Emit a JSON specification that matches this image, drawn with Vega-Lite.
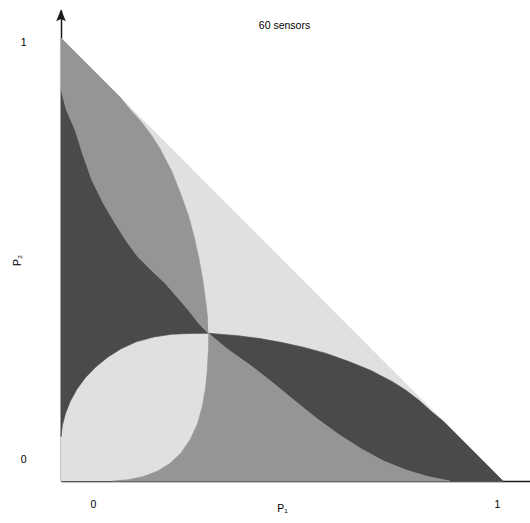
{
  "$schema": "https://vega.github.io/schema/vega-lite/v6.json",
  "width": 469,
  "height": 471,
  "autosize": {"type": "none"},
  "padding": {"left": 61, "top": 10, "right": 0, "bottom": 42},
  "background": "white",
  "config": {"view": {"stroke": null}, "font": "Liberation Sans"},
  "title": {"text": "60 sensors", "fontSize": 10.5, "fontWeight": "normal", "color": "black", "anchor": "middle", "dx": -11, "dy": 26},
  "datasets": {
    "arrow": [{"P1": 0, "P2": 1.051}],
    "regions": [
      {"region": "bg", "shade": "light", "i": 0, "P1": 0, "P2": 0},
      {"region": "bg", "shade": "light", "i": 1, "P1": 1, "P2": 0},
      {"region": "bg", "shade": "light", "i": 2, "P1": 0, "P2": 1},

      {"region": "d1", "shade": "dark", "i": 0, "P1": 0.3333, "P2": 0.3333},
      {"region": "d1", "shade": "dark", "i": 1, "P1": 0.40, "P2": 0.328},
      {"region": "d1", "shade": "dark", "i": 2, "P1": 0.45, "P2": 0.3215},
      {"region": "d1", "shade": "dark", "i": 3, "P1": 0.50, "P2": 0.3125},
      {"region": "d1", "shade": "dark", "i": 4, "P1": 0.55, "P2": 0.3015},
      {"region": "d1", "shade": "dark", "i": 5, "P1": 0.60, "P2": 0.288},
      {"region": "d1", "shade": "dark", "i": 6, "P1": 0.65, "P2": 0.270},
      {"region": "d1", "shade": "dark", "i": 7, "P1": 0.70, "P2": 0.250},
      {"region": "d1", "shade": "dark", "i": 8, "P1": 0.75, "P2": 0.224},
      {"region": "d1", "shade": "dark", "i": 9, "P1": 0.78, "P2": 0.205},
      {"region": "d1", "shade": "dark", "i": 10, "P1": 0.81, "P2": 0.182},
      {"region": "d1", "shade": "dark", "i": 11, "P1": 0.84, "P2": 0.155},
      {"region": "d1", "shade": "dark", "i": 12, "P1": 0.865, "P2": 0.135},
      {"region": "d1", "shade": "dark", "i": 13, "P1": 1, "P2": 0},
      {"region": "d1", "shade": "dark", "i": 14, "P1": 0.88, "P2": 0},
      {"region": "d1", "shade": "dark", "i": 15, "P1": 0.83, "P2": 0.010},
      {"region": "d1", "shade": "dark", "i": 16, "P1": 0.78, "P2": 0.025},
      {"region": "d1", "shade": "dark", "i": 17, "P1": 0.73, "P2": 0.045},
      {"region": "d1", "shade": "dark", "i": 18, "P1": 0.68, "P2": 0.072},
      {"region": "d1", "shade": "dark", "i": 19, "P1": 0.63, "P2": 0.104},
      {"region": "d1", "shade": "dark", "i": 20, "P1": 0.58, "P2": 0.140},
      {"region": "d1", "shade": "dark", "i": 21, "P1": 0.53, "P2": 0.180},
      {"region": "d1", "shade": "dark", "i": 22, "P1": 0.48, "P2": 0.221},
      {"region": "d1", "shade": "dark", "i": 23, "P1": 0.43, "P2": 0.260},
      {"region": "d1", "shade": "dark", "i": 24, "P1": 0.38, "P2": 0.295},
      {"region": "d1", "shade": "dark", "i": 25, "P1": 0.36, "P2": 0.311},

      {"region": "m1", "shade": "mid", "i": 0, "P1": 0.3333, "P2": 0.3333},
      {"region": "m1", "shade": "mid", "i": 1, "P1": 0.36, "P2": 0.311},
      {"region": "m1", "shade": "mid", "i": 2, "P1": 0.38, "P2": 0.295},
      {"region": "m1", "shade": "mid", "i": 3, "P1": 0.43, "P2": 0.260},
      {"region": "m1", "shade": "mid", "i": 4, "P1": 0.48, "P2": 0.221},
      {"region": "m1", "shade": "mid", "i": 5, "P1": 0.53, "P2": 0.180},
      {"region": "m1", "shade": "mid", "i": 6, "P1": 0.58, "P2": 0.140},
      {"region": "m1", "shade": "mid", "i": 7, "P1": 0.63, "P2": 0.104},
      {"region": "m1", "shade": "mid", "i": 8, "P1": 0.68, "P2": 0.072},
      {"region": "m1", "shade": "mid", "i": 9, "P1": 0.73, "P2": 0.045},
      {"region": "m1", "shade": "mid", "i": 10, "P1": 0.78, "P2": 0.025},
      {"region": "m1", "shade": "mid", "i": 11, "P1": 0.83, "P2": 0.010},
      {"region": "m1", "shade": "mid", "i": 12, "P1": 0.88, "P2": 0},
      {"region": "m1", "shade": "mid", "i": 13, "P1": 0.118, "P2": 0},
      {"region": "m1", "shade": "mid", "i": 14, "P1": 0.152, "P2": 0.003},
      {"region": "m1", "shade": "mid", "i": 15, "P1": 0.186, "P2": 0.010},
      {"region": "m1", "shade": "mid", "i": 16, "P1": 0.218, "P2": 0.022},
      {"region": "m1", "shade": "mid", "i": 17, "P1": 0.247, "P2": 0.040},
      {"region": "m1", "shade": "mid", "i": 18, "P1": 0.272, "P2": 0.064},
      {"region": "m1", "shade": "mid", "i": 19, "P1": 0.293, "P2": 0.095},
      {"region": "m1", "shade": "mid", "i": 20, "P1": 0.309, "P2": 0.130},
      {"region": "m1", "shade": "mid", "i": 21, "P1": 0.320, "P2": 0.170},
      {"region": "m1", "shade": "mid", "i": 22, "P1": 0.327, "P2": 0.210},
      {"region": "m1", "shade": "mid", "i": 23, "P1": 0.331, "P2": 0.250},
      {"region": "m1", "shade": "mid", "i": 24, "P1": 0.333, "P2": 0.290},

      {"region": "d2", "shade": "dark", "i": 0, "P1": 0.3333, "P2": 0.3333},
      {"region": "d2", "shade": "dark", "i": 1, "P1": 0.29, "P2": 0.333},
      {"region": "d2", "shade": "dark", "i": 2, "P1": 0.25, "P2": 0.331},
      {"region": "d2", "shade": "dark", "i": 3, "P1": 0.21, "P2": 0.325},
      {"region": "d2", "shade": "dark", "i": 4, "P1": 0.17, "P2": 0.314},
      {"region": "d2", "shade": "dark", "i": 5, "P1": 0.135, "P2": 0.298},
      {"region": "d2", "shade": "dark", "i": 6, "P1": 0.105, "P2": 0.279},
      {"region": "d2", "shade": "dark", "i": 7, "P1": 0.078, "P2": 0.257},
      {"region": "d2", "shade": "dark", "i": 8, "P1": 0.055, "P2": 0.233},
      {"region": "d2", "shade": "dark", "i": 9, "P1": 0.036, "P2": 0.207},
      {"region": "d2", "shade": "dark", "i": 10, "P1": 0.021, "P2": 0.180},
      {"region": "d2", "shade": "dark", "i": 11, "P1": 0.010, "P2": 0.152},
      {"region": "d2", "shade": "dark", "i": 12, "P1": 0.003, "P2": 0.125},
      {"region": "d2", "shade": "dark", "i": 13, "P1": 0, "P2": 0.100},
      {"region": "d2", "shade": "dark", "i": 14, "P1": 0, "P2": 0.883},
      {"region": "d2", "shade": "dark", "i": 15, "P1": 0.012, "P2": 0.838},
      {"region": "d2", "shade": "dark", "i": 16, "P1": 0.032, "P2": 0.792},
      {"region": "d2", "shade": "dark", "i": 17, "P1": 0.050, "P2": 0.735},
      {"region": "d2", "shade": "dark", "i": 18, "P1": 0.070, "P2": 0.679},
      {"region": "d2", "shade": "dark", "i": 19, "P1": 0.095, "P2": 0.628},
      {"region": "d2", "shade": "dark", "i": 20, "P1": 0.122, "P2": 0.582},
      {"region": "d2", "shade": "dark", "i": 21, "P1": 0.148, "P2": 0.541},
      {"region": "d2", "shade": "dark", "i": 22, "P1": 0.174, "P2": 0.506},
      {"region": "d2", "shade": "dark", "i": 23, "P1": 0.205, "P2": 0.475},
      {"region": "d2", "shade": "dark", "i": 24, "P1": 0.235, "P2": 0.447},
      {"region": "d2", "shade": "dark", "i": 25, "P1": 0.262, "P2": 0.416},
      {"region": "d2", "shade": "dark", "i": 26, "P1": 0.287, "P2": 0.387},
      {"region": "d2", "shade": "dark", "i": 27, "P1": 0.310, "P2": 0.358},

      {"region": "m2", "shade": "mid", "i": 0, "P1": 0.3333, "P2": 0.3333},
      {"region": "m2", "shade": "mid", "i": 1, "P1": 0.310, "P2": 0.358},
      {"region": "m2", "shade": "mid", "i": 2, "P1": 0.287, "P2": 0.387},
      {"region": "m2", "shade": "mid", "i": 3, "P1": 0.262, "P2": 0.416},
      {"region": "m2", "shade": "mid", "i": 4, "P1": 0.235, "P2": 0.447},
      {"region": "m2", "shade": "mid", "i": 5, "P1": 0.205, "P2": 0.475},
      {"region": "m2", "shade": "mid", "i": 6, "P1": 0.174, "P2": 0.506},
      {"region": "m2", "shade": "mid", "i": 7, "P1": 0.148, "P2": 0.541},
      {"region": "m2", "shade": "mid", "i": 8, "P1": 0.122, "P2": 0.582},
      {"region": "m2", "shade": "mid", "i": 9, "P1": 0.095, "P2": 0.628},
      {"region": "m2", "shade": "mid", "i": 10, "P1": 0.070, "P2": 0.679},
      {"region": "m2", "shade": "mid", "i": 11, "P1": 0.050, "P2": 0.735},
      {"region": "m2", "shade": "mid", "i": 12, "P1": 0.032, "P2": 0.792},
      {"region": "m2", "shade": "mid", "i": 13, "P1": 0.012, "P2": 0.838},
      {"region": "m2", "shade": "mid", "i": 14, "P1": 0, "P2": 0.883},
      {"region": "m2", "shade": "mid", "i": 15, "P1": 0, "P2": 1},
      {"region": "m2", "shade": "mid", "i": 16, "P1": 0.135, "P2": 0.865},
      {"region": "m2", "shade": "mid", "i": 17, "P1": 0.155, "P2": 0.840},
      {"region": "m2", "shade": "mid", "i": 18, "P1": 0.182, "P2": 0.810},
      {"region": "m2", "shade": "mid", "i": 19, "P1": 0.205, "P2": 0.780},
      {"region": "m2", "shade": "mid", "i": 20, "P1": 0.224, "P2": 0.750},
      {"region": "m2", "shade": "mid", "i": 21, "P1": 0.250, "P2": 0.700},
      {"region": "m2", "shade": "mid", "i": 22, "P1": 0.270, "P2": 0.650},
      {"region": "m2", "shade": "mid", "i": 23, "P1": 0.288, "P2": 0.600},
      {"region": "m2", "shade": "mid", "i": 24, "P1": 0.3015, "P2": 0.550},
      {"region": "m2", "shade": "mid", "i": 25, "P1": 0.3125, "P2": 0.500},
      {"region": "m2", "shade": "mid", "i": 26, "P1": 0.3215, "P2": 0.450},
      {"region": "m2", "shade": "mid", "i": 27, "P1": 0.328, "P2": 0.400},
      {"region": "m2", "shade": "mid", "i": 28, "P1": 0.332, "P2": 0.365}
    ]
  },
  "encoding": {
    "x": {
      "field": "P1", "type": "quantitative",
      "scale": {"domain": [0, 1.061], "nice": false, "zero": false},
      "axis": {
        "values": [0, 1], "format": "d", "ticks": false, "grid": false,
        "domainColor": "#1a1a1a", "domainWidth": 1.5,
        "labelFontSize": 10.5, "labelColor": "black", "labelPadding": 18,
        "labelFlush": false, "labelOverlap": false,
        "labelOffset": {"condition": {"test": "datum.value === 0", "value": 32}, "value": -6},
        "title": "P₁", "titleFontWeight": "normal", "titleFontSize": 10.5, "titleColor": "black",
        "titleX": 221, "titleY": 22
      }
    },
    "y": {
      "field": "P2", "type": "quantitative",
      "scale": {"domain": [0, 1.063], "nice": false, "zero": false},
      "axis": {
        "values": [0, 1], "format": "d", "ticks": false, "grid": false,
        "domainColor": "#1a1a1a", "domainWidth": 1.5,
        "labelFontSize": 10.5, "labelColor": "black", "labelPadding": 35,
        "labelFlush": false, "labelOverlap": false,
        "labelOffset": {"condition": {"test": "datum.value === 0", "value": -22}, "value": 5},
        "title": "P₂", "titleFontWeight": "normal", "titleFontSize": 10.5, "titleColor": "black",
        "titleX": -39, "titleY": 250
      }
    }
  },
  "layer": [
    {
      "data": {"name": "regions"},
      "transform": [{"filter": "datum.region === 'bg'"}],
      "mark": {"type": "line", "filled": true, "strokeWidth": 0.6, "interpolate": "linear"},
      "encoding": {
        "order": {"field": "i", "type": "quantitative"},
        "detail": {"field": "region", "type": "nominal"},
        "fill": {"field": "shade", "type": "nominal", "scale": {"domain": ["light", "mid", "dark"], "range": ["#e0e0e0", "#959595", "#4a4a4a"]}, "legend": null},
        "stroke": {"field": "shade", "type": "nominal", "scale": {"domain": ["light", "mid", "dark"], "range": ["#e0e0e0", "#959595", "#4a4a4a"]}, "legend": null}
      }
    },
    {
      "data": {"name": "regions"},
      "transform": [{"filter": "datum.region !== 'bg'"}],
      "mark": {"type": "line", "filled": true, "strokeWidth": 0.6, "interpolate": "linear"},
      "encoding": {
        "order": {"field": "i", "type": "quantitative"},
        "detail": {"field": "region", "type": "nominal"},
        "fill": {"field": "shade", "type": "nominal", "scale": {"domain": ["light", "mid", "dark"], "range": ["#e0e0e0", "#959595", "#4a4a4a"]}, "legend": null},
        "stroke": {"field": "shade", "type": "nominal", "scale": {"domain": ["light", "mid", "dark"], "range": ["#e0e0e0", "#959595", "#4a4a4a"]}, "legend": null}
      }
    },
    {
      "data": {"name": "arrow"},
      "mark": {"type": "point", "shape": "M0,-1 L0.8,1 L0,0.6 L-0.8,1 Z", "size": 144, "filled": true, "fill": "#1a1a1a", "strokeWidth": 0, "opacity": 1}
    }
  ]
}
